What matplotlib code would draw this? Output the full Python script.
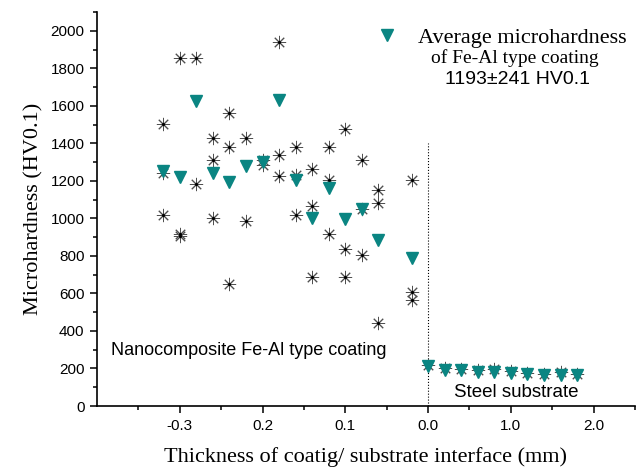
import matplotlib
matplotlib.use('Agg')
import matplotlib.pyplot as plt
import numpy as np

# coating side: individual measurements (stars) and averages (triangles)
coat_x = [-0.32, -0.32, -0.32, -0.30, -0.30, -0.30, -0.28, -0.28,
          -0.26, -0.26, -0.26, -0.24, -0.24, -0.24, -0.22, -0.22,
          -0.20, -0.20, -0.18, -0.18, -0.18, -0.16, -0.16, -0.16,
          -0.14, -0.14, -0.14, -0.12, -0.12, -0.12, -0.10, -0.10, -0.10,
          -0.08, -0.08, -0.08, -0.06, -0.06, -0.06, -0.02, -0.02, -0.02]
coat_hv = [1502, 1244, 1020, 1853, 918, 908, 1853, 1185,
           1427, 1309, 1002, 1560, 1379, 649, 1427, 986,
           1313, 1287, 1941, 1340, 1225, 1379, 1229, 1020,
           1264, 1064, 688, 1379, 1207, 918, 1477, 835, 688,
           1309, 1050, 803, 1149, 1082, 443, 1206, 606, 566]

avg_x = [-0.32, -0.30, -0.28, -0.26, -0.24, -0.22, -0.20, -0.18,
         -0.16, -0.14, -0.12, -0.10, -0.08, -0.06, -0.02]
avg_hv = [1255, 1220, 1628, 1243, 1193, 1278, 1300, 1633,
          1202, 1002, 1163, 995, 1048, 887, 789]

# steel substrate side
sub_x = [0.0, 0.2, 0.4, 0.6, 0.8, 1.0, 1.2, 1.4, 1.6, 1.8]
sub_hv = [220, 200, 198, 190, 195, 188, 175, 170, 182, 168]
sub_avg = [214, 191, 191, 182, 182, 177, 168, 165, 165, 165]

xticks = [-0.3, -0.2, -0.1, 0.0, 1.0, 2.0]
xticklabels = ['-0.3', '0.2', '0.1', '0.0', '1.0', '2.0']
xminor = [-0.35, -0.25, -0.15, -0.05, 0.5, 1.5, 2.5]

teal = '#0a8582'
serif = 'Liberation Serif'
sans = 'Liberation Sans'
plt.rcParams['font.family'] = sans


def fwd(x):
    x = np.asarray(x, dtype=float)
    return np.where(x <= 0, x, x / 10.0)


def inv(u):
    u = np.asarray(u, dtype=float)
    return np.where(u <= 0, u, u * 10.0)


fig = plt.figure(figsize=(6.44, 4.70), dpi=100)
ax = fig.add_axes([97 / 644, 64 / 470, 538 / 644, 394 / 470])
ax.set_xscale('function', functions=(fwd, inv))

star = (8, 2, 0)
for xs, ys in [(coat_x, coat_hv), (sub_x, sub_hv)]:
    ax.plot(xs, ys, ls='none', marker=star, ms=9.5, mew=0.7, mec='#505050', zorder=3)
    ax.plot(xs, ys, ls='none', marker='o', ms=2.2, mfc='black', mec='black', mew=0, zorder=3)
tri, = ax.plot(avg_x, avg_hv, ls='none', marker='v', ms=9, mfc=teal, mec=teal, zorder=4)
ax.plot(sub_x, sub_avg, ls='none', marker='v', ms=9, mfc=teal, mec=teal, zorder=4)

ax.vlines(0, 0, 1400, colors='black', linestyles=':', lw=0.8, zorder=2)

ax.set_xlim(-0.4, 2.5)
ax.set_ylim(0, 2100)
ax.set_xticks(xticks)
ax.set_xticklabels(xticklabels)
ax.set_xticks(xminor, minor=True)
ax.set_yticks(np.arange(0, 2001, 200))
ax.set_yticks(np.arange(100, 2101, 200), minor=True)
ax.tick_params(which='major', length=5, width=1.1, labelsize=11, pad=4)
ax.tick_params(which='minor', length=3, width=1.1)
for s in ['top', 'right']:
    ax.spines[s].set_visible(False)
for s in ['left', 'bottom']:
    ax.spines[s].set_linewidth(1.2)

ax.set_xlabel('Thickness of coatig/ substrate interface (mm)', family=serif, fontsize=16)
ax.set_ylabel('Microhardness (HV0.1)', family=serif, fontsize=16)
ax.xaxis.set_label_coords(0.5, -0.105)
ax.yaxis.set_label_coords(-0.10, 0.5)

ax.legend([tri], ['Average microhardness'], loc='upper left', bbox_to_anchor=(0.518, 0.961),
          frameon=False, borderpad=0, borderaxespad=0, handlelength=1, handletextpad=0.92,
          prop={'family': serif, 'size': 16})
ax.text(0.777, 0.882, 'of Fe-Al type coating', transform=ax.transAxes,
        ha='center', va='center', family=serif, fontsize=14)
ax.text(0.7816, 0.828, '1193\u00b1241 HV0.1', transform=ax.transAxes,
        ha='center', va='center', fontsize=14)
ax.text(0.0255, 0.142, 'Nanocomposite Fe-Al type coating', transform=ax.transAxes,
        ha='left', va='center', fontsize=13)
ax.text(0.779, 0.033, 'Steel substrate', transform=ax.transAxes,
        ha='center', va='center', fontsize=13.5)

fig.savefig('out.png', dpi=100)
